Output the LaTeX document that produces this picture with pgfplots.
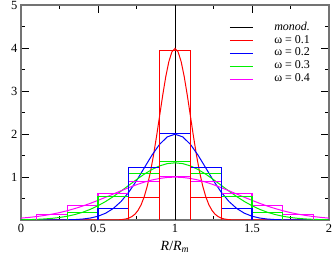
\documentclass[border=0pt]{standalone}
\usepackage{pgfplots}
\pgfplotsset{compat=1.18}
\usepackage{fontspec}
\setmainfont{Liberation Serif}
\definecolor{gr}{RGB}{0,240,0}
\definecolor{mg}{RGB}{255,0,255}
\definecolor{bl}{RGB}{0,0,255}
\definecolor{rd}{RGB}{255,0,0}
\begin{document}
\begin{tikzpicture}
\begin{axis}[
  scale only axis, width=308pt, height=215pt,
  xmin=0, xmax=2, ymin=0, ymax=5,
  xtick={0,0.5,1,1.5,2}, xticklabels={0,0.5,1,1.5,2},
  ytick={0,1,2,3,4,5}, yticklabels={,1,2,3,4,5},
  minor x tick num=1, minor y tick num=1,
  tick align=inside,
  major tick length=8pt, minor tick length=4pt,
  every tick/.style={black, line width=0.7pt},
  axis x line=box, axis y line=box,
  x axis line style={black, line width=0.9pt},
  y axis line style={black!55, line width=1.3pt},
  /pgf/number format/assume math mode=true,
  tick label style={font=\fontsize{12.5}{13}\selectfont},
  xticklabel style={yshift=-1pt},
  xlabel={\textit{R}/\textit{R}\textsubscript{\textit{m}}},
  xlabel style={font=\fontsize{14}{15}\selectfont, yshift=-1pt},
  legend style={draw=none, fill=none, at={(axis cs:1.351,4.63)}, anchor=north west,
    inner sep=0pt, font=\fontsize{12}{13}\selectfont,
    nodes={inner sep=0pt, text height=9pt, text depth=3.9pt},
    column sep=0pt, row sep=0pt},
  legend cell align=left,
  legend image code/.code={\draw[#1] (0pt,0pt) -- (23pt,0pt); \path (44pt,0pt);},
  clip=true,
]
\coordinate (O) at (rel axis cs:0,0);
% monodisperse
\addplot[black, line width=1pt] coordinates {(1,0)(1,5)};
% omega = 0.1
\addplot[rd, line width=1pt] coordinates {
(0,0)(0.6,0.0013)(0.62,0.0029)(0.64,0.0061)(0.66,0.0123)(0.68,0.0238)(0.70,0.0443)(0.72,0.0792)(0.74,0.1358)(0.76,0.2239)(0.78,0.3547)
(0.80,0.5399)(0.82,0.7895)(0.84,1.1092)(0.86,1.4973)(0.88,1.9419)(0.90,2.4197)(0.92,2.8969)(0.94,3.3322)(0.96,3.6827)(0.98,3.9104)
(1.00,3.9894)(1.02,3.9104)(1.04,3.6827)(1.06,3.3322)(1.08,2.8969)(1.10,2.4197)(1.12,1.9419)(1.14,1.4973)(1.16,1.1092)(1.18,0.7895)
(1.20,0.5399)(1.22,0.3547)(1.24,0.2239)(1.26,0.1358)(1.28,0.0792)(1.30,0.0443)(1.32,0.0238)(1.34,0.0123)(1.36,0.0061)(1.38,0.0029)(1.40,0.0013)(2,0)};
% omega = 0.2
\addplot[bl, line width=1pt] coordinates {
(0,0)(0.2,0.0007)(0.3,0.0044)(0.35,0.0102)(0.4,0.0222)(0.45,0.0455)(0.5,0.0876)(0.55,0.1587)(0.6,0.2700)(0.65,0.4314)(0.7,0.6476)
(0.75,0.9132)(0.8,1.2098)(0.85,1.5057)(0.9,1.7603)(0.95,1.9333)(1,1.9947)(1.05,1.9333)(1.1,1.7603)(1.15,1.5057)(1.2,1.2098)(1.25,0.9132)
(1.3,0.6476)(1.35,0.4314)(1.4,0.2700)(1.45,0.1587)(1.5,0.0876)(1.55,0.0455)(1.6,0.0222)(1.65,0.0102)(1.7,0.0044)(1.8,0.0007)(2,0)};
% omega = 0.3
\addplot[gr, line width=1pt] coordinates {
(0,0.0051)(0.05,0.0088)(0.1,0.0148)(0.15,0.0240)(0.2,0.0380)(0.25,0.0584)(0.3,0.0874)(0.35,0.1272)(0.4,0.1800)(0.45,0.2477)(0.5,0.3316)
(0.55,0.4317)(0.6,0.5467)(0.65,0.6733)(0.7,0.8066)(0.75,0.9397)(0.8,1.0648)(0.85,1.1736)(0.9,1.2579)(0.95,1.3115)(1,1.3298)
(1.05,1.3115)(1.1,1.2579)(1.15,1.1736)(1.2,1.0648)(1.25,0.9397)(1.3,0.8066)(1.35,0.6733)(1.4,0.5467)(1.45,0.4317)(1.5,0.3316)
(1.55,0.2477)(1.6,0.1800)(1.65,0.1272)(1.7,0.0874)(1.75,0.0584)(1.8,0.0380)(1.85,0.0240)(1.9,0.0148)(1.95,0.0088)(2,0.0051)};
% omega = 0.4
\addplot[mg, line width=1pt] coordinates {
(0,0.0438)(0.05,0.0594)(0.1,0.0794)(0.15,0.1043)(0.2,0.1350)(0.25,0.1720)(0.3,0.2157)(0.35,0.2664)(0.4,0.3238)(0.45,0.3875)(0.5,0.4566)
(0.55,0.5297)(0.6,0.6049)(0.65,0.6802)(0.7,0.7529)(0.75,0.8204)(0.8,0.8802)(0.85,0.9296)(0.9,0.9667)(0.95,0.9896)(1,0.9974)
(1.05,0.9896)(1.1,0.9667)(1.15,0.9296)(1.2,0.8802)(1.25,0.8204)(1.3,0.7529)(1.35,0.6802)(1.4,0.6049)(1.45,0.5297)(1.5,0.4566)
(1.55,0.3875)(1.6,0.3238)(1.65,0.2664)(1.7,0.2157)(1.75,0.1720)(1.8,0.1350)(1.85,0.1043)(1.9,0.0794)(1.95,0.0594)(2,0.0438)};
\legend{\textit{monod.}, ω = 0.1, ω = 0.2, ω = 0.3, ω = 0.4}
% histograms (normalized, bin width 0.2), drawn as bar outlines
\addplot[color=mg, line width=1.1pt] coordinates {
(0.1,0)(0.1,0.138)(0.3,0.138)(0.3,0)(0.3,0.332)(0.5,0.332)(0.5,0)(0.5,0.619)(0.7,0.619)(0.7,0)(0.7,0.901)(0.9,0.901)(0.9,0)
(0.9,1.020)(1.1,1.020)(1.1,0)(1.1,0.901)(1.3,0.901)(1.3,0)(1.3,0.619)(1.5,0.619)(1.5,0)(1.5,0.332)(1.7,0.332)(1.7,0)(1.7,0.138)(1.9,0.138)(1.9,0)};
\addplot[color=gr, line width=1.1pt] coordinates {
(0.3,0)(0.3,0.183)(0.5,0.183)(0.5,0)(0.5,0.556)(0.7,0.556)(0.7,0)(0.7,1.084)(0.9,1.084)(0.9,0)(0.9,1.354)(1.1,1.354)(1.1,0)
(1.1,1.084)(1.3,1.084)(1.3,0)(1.3,0.556)(1.5,0.556)(1.5,0)(1.5,0.183)(1.7,0.183)(1.7,0)};
\addplot[color=bl, line width=1.1pt] coordinates {
(0.5,0)(0.5,0.272)(0.7,0.272)(0.7,0)(0.7,1.221)(0.9,1.221)(0.9,0)(0.9,2.013)(1.1,2.013)(1.1,0)(1.1,1.221)(1.3,1.221)(1.3,0)
(1.3,0.272)(1.5,0.272)(1.5,0)};
\addplot[color=rd, line width=1.1pt] coordinates {
(0.7,0)(0.7,0.532)(0.9,0.532)(0.9,0)(0.9,3.935)(1.1,3.935)(1.1,0)(1.1,0.532)(1.3,0.532)(1.3,0)};
\end{axis}
\pgfresetboundingbox
\path (O) ++(-21pt,-34pt) rectangle ++(332pt,254pt);
\end{tikzpicture}
\end{document}
